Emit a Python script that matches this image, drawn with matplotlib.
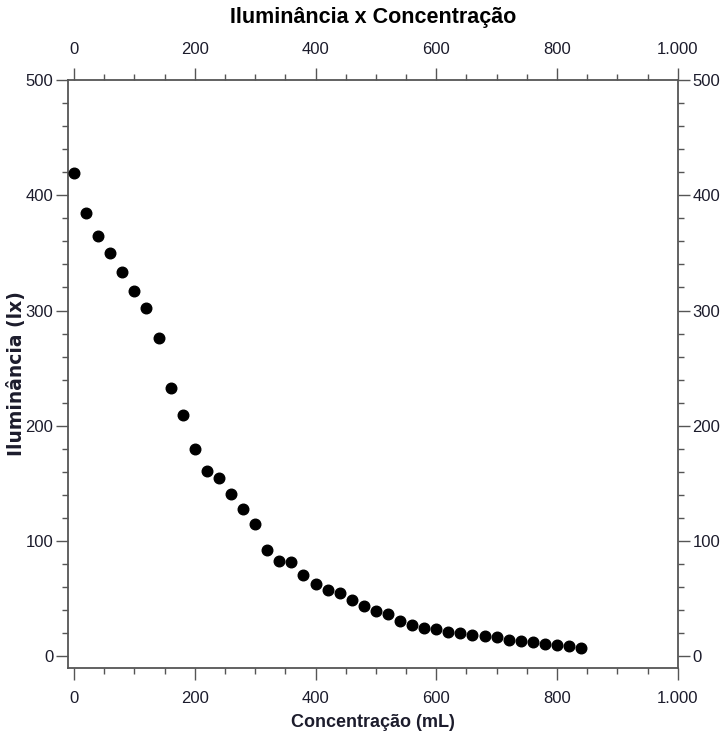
import matplotlib
matplotlib.use("Agg")
import matplotlib.pyplot as plt
from matplotlib.ticker import MultipleLocator, FuncFormatter

# Concentration (mL) and illuminance (lx)
concentracao = [0, 20, 40, 60, 80, 100, 120, 140, 160, 180, 200, 220, 240, 260,
                280, 300, 320, 340, 360, 380, 400, 420, 440, 460, 480, 500, 520,
                540, 560, 580, 600, 620, 640, 660, 680, 700, 720, 740, 760, 780,
                800, 820, 840]
iluminancia = [419, 385, 365, 350, 333, 317, 302, 276, 233, 209, 180, 161, 155,
               141, 128, 115, 92, 83, 82, 71, 63, 58, 55, 49, 43.5, 39, 36.5,
               31, 27.5, 25, 23.5, 21.6, 20.2, 18.8, 17.8, 16.5, 14.6, 13.4,
               12.4, 10.8, 9.7, 8.7, 7]

TICK_FONT = "Liberation Sans"
TEXT_COLOR = "#1c1c2c"
SPINE_COLOR = "#555555"


def pt_formatter(v, pos):
    # Portuguese thousands separator: 1000 -> 1.000
    return f"{int(v):,}".replace(",", ".")


fig = plt.figure(figsize=(7.21, 7.40), dpi=100)
ax = fig.add_axes([0.0943, 0.0973, 0.8457, 0.7947])

ax.scatter(concentracao, iluminancia, s=58, color="black", zorder=3)

ax.set_xlim(-10, 1000)
ax.set_ylim(-10, 500)

ax.xaxis.set_major_locator(MultipleLocator(200))
ax.xaxis.set_minor_locator(MultipleLocator(50))
ax.yaxis.set_major_locator(MultipleLocator(100))
ax.yaxis.set_minor_locator(MultipleLocator(20))
ax.xaxis.set_major_formatter(FuncFormatter(pt_formatter))
ax.yaxis.set_major_formatter(FuncFormatter(pt_formatter))

ax.tick_params(which="both", direction="out", top=True, right=True,
               labeltop=True, labelright=True, color=SPINE_COLOR, width=1.0)
ax.tick_params(which="major", length=8.5, labelsize=12, labelcolor=TEXT_COLOR)
ax.tick_params(axis="x", which="major", pad=8)
ax.tick_params(axis="y", which="major", pad=2)
ax.tick_params(which="minor", length=4.5)
for lbl in (ax.xaxis.get_ticklabels(which="major")
            + ax.yaxis.get_ticklabels(which="major")):
    lbl.set_family(TICK_FONT)

for sp in ax.spines.values():
    sp.set_color(SPINE_COLOR)
    sp.set_linewidth(1.3)

ax.set_xlabel("Concentração (mL)", family=TICK_FONT, fontsize=13,
              fontweight="bold", color=TEXT_COLOR, labelpad=6)
ax.set_ylabel("Iluminância (lx)", family="DejaVu Sans", fontsize=13.5,
              fontweight="bold", color=TEXT_COLOR, labelpad=0)
fig.text(0.517, 0.976, "Iluminância x Concentração", family=TICK_FONT,
         fontsize=15.5, fontweight="bold", color="black", ha="center",
         va="center")

fig.savefig("out.png", dpi=100)
